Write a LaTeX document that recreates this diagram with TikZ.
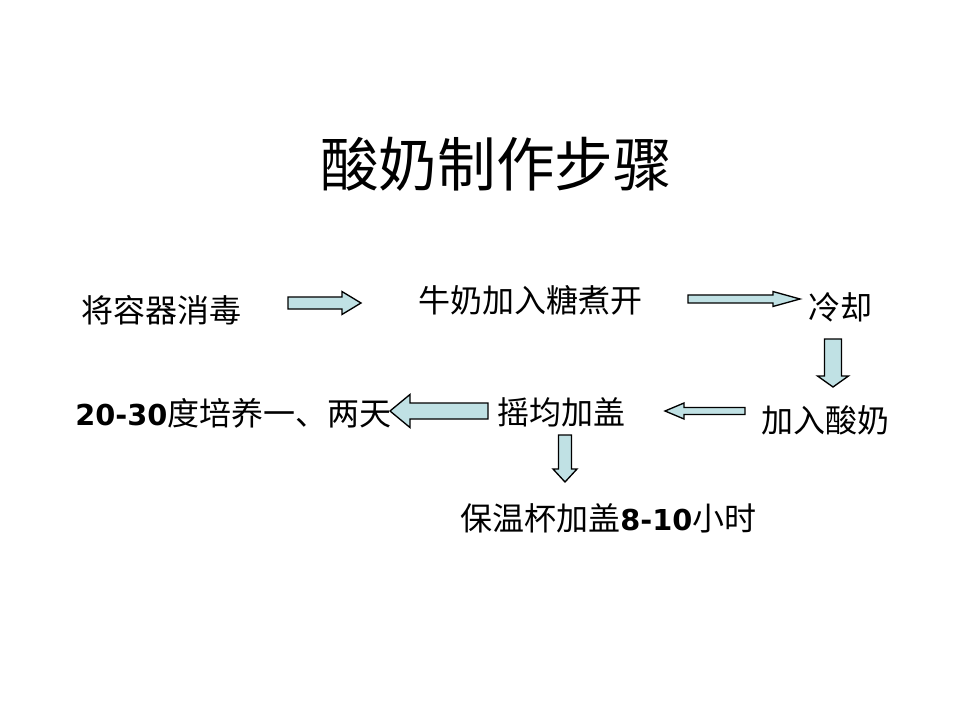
\documentclass[tikz,border=0pt]{standalone}
\usepackage{fontspec}
\setmainfont{Liberation Serif}
\newfontfamily\cjk{Noto Sans CJK SC}
\newfontfamily\numfont[Scale=0.9]{DejaVu Sans}
\usetikzlibrary{calc}
\definecolor{arrowfill}{RGB}{192,225,228}

\tikzset{
  step text/.style={font=\fontsize{24}{28}\selectfont\cjk, inner sep=0pt, anchor=base},
  title text/.style={font=\fontsize{44}{52}\selectfont\cjk, inner sep=0pt, anchor=base},
  block arrow/.style={draw=black, line width=1pt, fill=arrowfill, line join=miter},
}

% block arrow from #1 to #2: shaft half-width #3, head half-width #4, head length #5
\newcommand{\blockarrow}[5]{%
  \path ($(#2)!#5!(#1)$) coordinate (bah);
  \draw[block arrow] ($(#1)!#3!90:(#2)$) -- ($(bah)!#3!90:(#2)$) -- ($(bah)!#4!90:(#2)$)
    -- (#2) -- ($(bah)!#4!-90:(#2)$) -- ($(bah)!#3!-90:(#2)$) -- ($(#1)!#3!-90:(#2)$) -- cycle;
}

\begin{document}
\begin{tikzpicture}[x=0.75pt, y=-0.75pt]
  \fill[white] (0,0) rectangle (960,720);
  \useasboundingbox (0,0) rectangle (960,720);

  % title
  \node[title text] (title) at (496,187) {酸奶制作步骤};

  % steps
  \node[step text] (disinfect) at (161,322) {将容器消毒};
  \node[step text] (boil) at (530,312) {牛奶加入糖煮开};
  \node[step text] (cool) at (840,320) {冷却};
  \node[step text] (addyog) at (825,432) {加入酸奶};
  \node[step text] (shake) at (561,424) {摇均加盖};
  \node[step text, anchor=base west] (incubate) at (75,425) {{\numfont\bfseries 20-30}度培养一、两天};
  \node[step text, anchor=base west] (flask) at (460,530) {保温杯加盖{\numfont\bfseries 8-10}小时};

  % arrow end points
  \coordinate (a1s) at (288,303); \coordinate (a1e) at (361,303);
  \coordinate (a2s) at (688,299); \coordinate (a2e) at (800,299);
  \coordinate (a3s) at (833,339); \coordinate (a3e) at (833,387);
  \coordinate (a4s) at (745,411); \coordinate (a4e) at (665,411);
  \coordinate (a5s) at (488,411); \coordinate (a5e) at (390,411);
  \coordinate (a6s) at (565,435); \coordinate (a6e) at (565,482);

  \blockarrow{a1s}{a1e}{4.5pt}{8.6pt}{14.25pt}
  \blockarrow{a2s}{a2e}{3pt}{5.6pt}{20.25pt}
  \blockarrow{a3s}{a3e}{6.4pt}{11.6pt}{8.25pt}
  \blockarrow{a4s}{a4e}{2.6pt}{6pt}{14.25pt}
  \blockarrow{a5s}{a5e}{6pt}{12.4pt}{15pt}
  \blockarrow{a6s}{a6e}{4.9pt}{9pt}{9.75pt}
\end{tikzpicture}
\end{document}
